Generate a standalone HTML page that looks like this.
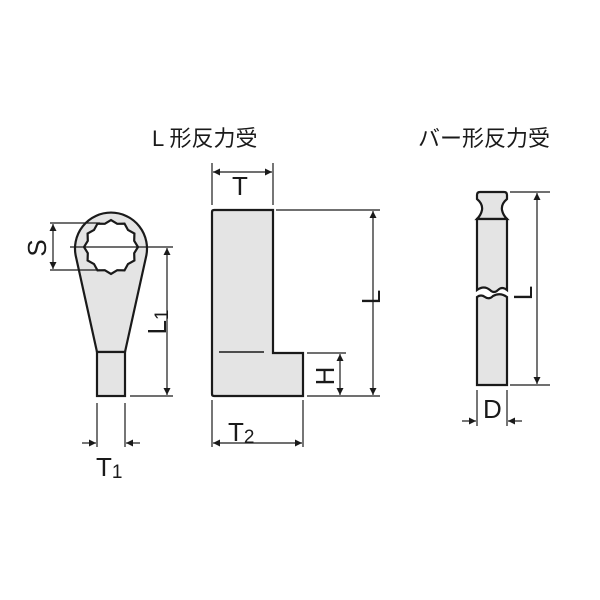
<!DOCTYPE html>
<html><head><meta charset="utf-8"><style>
html,body{margin:0;padding:0;background:#fff;}
svg{display:block;}
text{font-family:"Liberation Sans","Noto Sans CJK JP",sans-serif;fill:#1a1a1a;}
</style></head><body>
<svg width="600" height="600" viewBox="0 0 600 600" xmlns="http://www.w3.org/2000/svg">
<defs>
<marker id="a" viewBox="0 0 10 10" refX="10" refY="5" markerWidth="10" markerHeight="7" orient="auto-start-reverse" markerUnits="userSpaceOnUse"><path d="M0,0 L10,5 L0,10 Z" fill="#1a1a1a"/></marker>
</defs>
<text x="152" y="146" font-size="22">L 形反力受</text>
<text x="418" y="146" font-size="22">バー形反力受</text>

<g stroke="#1a1a1a" fill="none" stroke-width="1.2">
<path d="M97,352 L76,257 A36 36 0 1 1 146,257 L125,352 Z" fill="#e4e4e4" stroke-width="2.2"/>
<rect x="97" y="352" width="28" height="44" fill="#e4e4e4" stroke-width="2.2"/>
<polygon fill="#fff" stroke-width="2.2" points="138,247 134.2,253.2 134.4,260.5 128,264 124.5,270.4 117.2,270.2 111,274 104.8,270.2 97.5,270.4 94,264 87.6,260.5 87.8,253.2 84,247 87.8,240.8 87.6,233.5 94,230 97.5,223.6 104.8,223.8 111,220 117.2,223.8 124.5,223.6 128,230 134.4,233.5 134.2,240.8"/>
<line x1="50" y1="223" x2="100" y2="223"/>
<line x1="50" y1="270" x2="100" y2="270"/>
<line x1="53" y1="224" x2="53" y2="269" marker-start="url(#a)" marker-end="url(#a)"/>
<line x1="70" y1="247" x2="173" y2="247"/>
<line x1="130" y1="396" x2="173" y2="396"/>
<line x1="167" y1="248" x2="167" y2="395" marker-start="url(#a)" marker-end="url(#a)"/>
<line x1="97" y1="403" x2="97" y2="447"/>
<line x1="125" y1="403" x2="125" y2="447"/>
<line x1="82" y1="443" x2="96" y2="443" marker-end="url(#a)"/>
<line x1="140" y1="443" x2="126" y2="443" marker-end="url(#a)"/>

<path d="M214,210 L273,210 L273,353 L303,353 L303,396 L214,396 Q212,396 212,394 L212,212 Q212,210 214,210 Z" fill="#e4e4e4" stroke-width="2.2"/>
<line x1="219" y1="352" x2="264" y2="352" stroke-width="1.5"/>
<line x1="212" y1="163" x2="212" y2="205"/>
<line x1="273" y1="163" x2="273" y2="205"/>
<line x1="213" y1="172" x2="272" y2="172" marker-start="url(#a)" marker-end="url(#a)"/>
<line x1="276" y1="210" x2="380" y2="210"/>
<line x1="307" y1="396" x2="380" y2="396"/>
<line x1="373" y1="211" x2="373" y2="395" marker-start="url(#a)" marker-end="url(#a)"/>
<line x1="307" y1="353" x2="346" y2="353"/>
<line x1="340" y1="354" x2="340" y2="395" marker-start="url(#a)" marker-end="url(#a)"/>
<line x1="212" y1="400" x2="212" y2="447"/>
<line x1="303" y1="400" x2="303" y2="447"/>
<line x1="213" y1="443" x2="302" y2="443" marker-start="url(#a)" marker-end="url(#a)"/>

<path d="M480,192 L504,192 Q507,192 507,195 L507,199 Q501,204 502,210 Q503,215 507,219 L477,219 Q481,215 482,210 Q483,204 477,199 L477,195 Q477,192 480,192 Z" fill="#e4e4e4" stroke-width="2.2"/>
<path d="M477,219 L507,219 L507,290 Q502,286 498,290 Q494,294 490,290 Q484,285 477,290 Z" fill="#e4e4e4" stroke-width="2.2"/>
<path d="M477,297 Q481,294 485,297 Q489,300 493,296 Q500,292 507,297 L507,385 L477,385 Z" fill="#e4e4e4" stroke-width="2.2"/>
<line x1="510" y1="192" x2="550" y2="192"/>
<line x1="510" y1="385" x2="550" y2="385"/>
<line x1="537" y1="193" x2="537" y2="384" marker-start="url(#a)" marker-end="url(#a)"/>
<line x1="477" y1="390" x2="477" y2="426"/>
<line x1="507" y1="390" x2="507" y2="426"/>
<line x1="462" y1="421" x2="476" y2="421" marker-end="url(#a)"/>
<line x1="522" y1="421" x2="508" y2="421" marker-end="url(#a)"/>
</g>

<text x="232" y="195" font-size="26">T</text>
<text x="228" y="441" font-size="26">T<tspan font-size="19" dy="2">2</tspan></text>
<text x="96" y="476" font-size="26">T<tspan font-size="19" dy="2">1</tspan></text>
<text x="483" y="418" font-size="26">D</text>
<text transform="translate(46,248) rotate(-90)" text-anchor="middle" font-size="26">S</text>
<text transform="translate(166,322) rotate(-90)" text-anchor="middle" font-size="26">L<tspan font-size="19" dy="2">1</tspan></text>
<text transform="translate(380,297) rotate(-90)" text-anchor="middle" font-size="26">L</text>
<text transform="translate(334,376) rotate(-90)" text-anchor="middle" font-size="26">H</text>
<text transform="translate(532,293) rotate(-90)" text-anchor="middle" font-size="26">L</text>
</svg>
</body></html>
